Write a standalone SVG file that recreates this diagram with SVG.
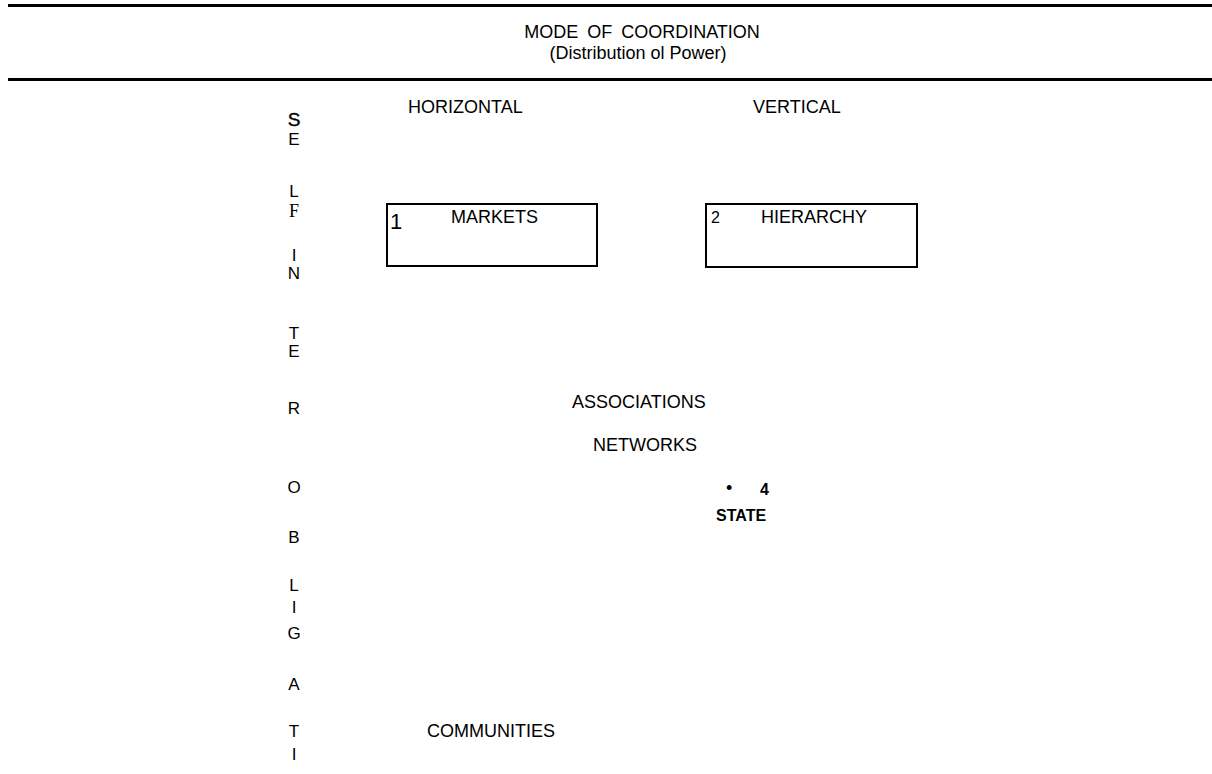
<svg xmlns="http://www.w3.org/2000/svg" width="1212" height="774" viewBox="0 0 1212 774">
<style>
text{font-family:"Liberation Sans",Arial,sans-serif;fill:#000}
.t18{font-size:18px}
.v{font-size:17px;text-anchor:middle}
.box{fill:none;stroke:#000;stroke-width:2}
.rule{fill:#000}
.b{font-weight:bold}
</style>
<rect width="1212" height="774" fill="#fff"/>
<g id="header">
<rect class="rule" x="8" y="4" width="1204" height="3"/>
<rect class="rule" x="8" y="78" width="1204" height="3"/>
<text class="t18" x="642" y="38" text-anchor="middle" word-spacing="4">MODE OF COORDINATION</text>
<text x="638" y="59" text-anchor="middle" font-size="18">(Distribution ol Power)</text>
</g>
<g id="axis-labels">
<text class="t18" x="408" y="113">HORIZONTAL</text>
<text class="t18" x="753" y="113">VERTICAL</text>
</g>
<g id="side-label">
<text class="v" x="294" y="126" style="font-size:19px" stroke="#000" stroke-width="0.4">S</text>
<text class="v" x="294" y="145">E</text>
<text class="v" x="294" y="197">L</text>
<text class="v" x="294" y="217" style="font-family:'Liberation Serif',serif;font-size:18px">F</text>
<text class="v" x="294" y="261">I</text>
<text class="v" x="294" y="279">N</text>
<text class="v" x="294" y="339">T</text>
<text class="v" x="294" y="357">E</text>
<text class="v" x="294" y="414">R</text>
<text class="v" x="294" y="493">O</text>
<text class="v" x="294" y="543">B</text>
<text class="v" x="294" y="591">L</text>
<text class="v" x="294" y="613">I</text>
<text class="v" x="294" y="639">G</text>
<text class="v" x="294" y="690">A</text>
<text class="v" x="294" y="737">T</text>
<text class="v" x="294" y="760">I</text>
</g>
<g id="markets">
<rect class="box" x="387" y="204" width="210" height="62"/>
<text x="390" y="229" font-size="22">1</text>
<text class="t18" x="451" y="223">MARKETS</text>
</g>
<g id="hierarchy">
<rect class="box" x="706" y="204" width="211" height="63"/>
<text x="711" y="223" font-size="16">2</text>
<text class="t18" x="761" y="223">HIERARCHY</text>
</g>
<g id="associations">
<text class="t18" x="572" y="408">ASSOCIATIONS</text>
</g>
<g id="networks">
<text class="t18" x="593" y="451">NETWORKS</text>
</g>
<g id="state">
<text class="t18" x="726" y="494">•</text>
<text class="b" x="760" y="495" font-size="16">4</text>
<text class="b" x="716" y="521" font-size="16">STATE</text>
</g>
<g id="communities">
<text class="t18" x="427" y="737">COMMUNITIES</text>
</g>
<g id="connectors"/>
</svg>
